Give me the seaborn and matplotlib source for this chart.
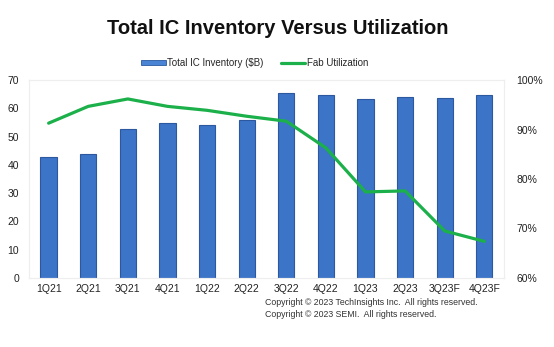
import matplotlib
matplotlib.use("Agg")
import matplotlib.pyplot as plt
import seaborn as sns
import pandas as pd
from matplotlib.patches import Patch
from matplotlib.lines import Line2D
from matplotlib.ticker import FuncFormatter

quarters = ["1Q21", "2Q21", "3Q21", "4Q21", "1Q22", "2Q22", "3Q22", "4Q22",
            "1Q23", "2Q23", "3Q23F", "4Q23F"]
inventory = [42.8, 44.0, 52.7, 55.0, 54.0, 56.0, 65.4, 64.7, 63.3, 64.0, 63.7, 64.6]
utilization = [91.3, 94.7, 96.2, 94.7, 93.9, 92.7, 91.7, 86.3, 77.4, 77.6, 69.5, 67.4]

df = pd.DataFrame({"quarter": quarters, "inventory": inventory, "util": utilization})
df["pos"] = range(len(df))

sns.set_style("white")
plt.rcParams["font.family"] = ["Liberation Sans", "DejaVu Sans"]

fig = plt.figure(figsize=(5.54, 3.47), dpi=100)
ax = fig.add_axes([0.052, 0.199, 0.858, 0.570])

sns.barplot(data=df, x="quarter", y="inventory", ax=ax, color="#3C74C8",
            width=0.41, edgecolor="#2B589E", linewidth=0.8, saturation=1)
ax.set_ylim(0, 70)
ax.set_yticks(range(0, 71, 10))
ax.set_xlim(-0.5, len(quarters) - 0.5)
ax.set_xlabel("")
ax.set_ylabel("")
ax.tick_params(axis="x", labelsize=7.5, length=0, pad=4, colors="#222222")
ax.tick_params(axis="y", labelsize=7.5, length=0, pad=7, colors="#222222")

ax2 = ax.twinx()
sns.lineplot(data=df, x="pos", y="util", ax=ax2, color="#1CB04A", linewidth=2.3,
             sort=False)
ax2.set_ylim(60, 100)
ax2.set_yticks(range(60, 101, 10))
ax2.yaxis.set_major_formatter(FuncFormatter(lambda v, p: f"{int(v)}%"))
ax2.set_xlim(-0.5, len(quarters) - 0.5)
ax2.set_xlabel("")
ax2.set_ylabel("")
ax2.tick_params(axis="y", labelsize=7.5, length=0, pad=9, colors="#222222")

for a in (ax, ax2):
    for s in a.spines.values():
        s.set_color("#EEEEEE")
        s.set_linewidth(0.8)

fig.text(0.502, 0.918, "Total IC Inventory Versus Utilization", ha="center", va="center",
         fontsize=14.5, fontweight="bold", color="#111111")

handles = [Patch(facecolor="#4A84D4", edgecolor="#2B589E", linewidth=0.6),
           Line2D([0], [0], color="#1CB04A", linewidth=2.3)]
fig.legend(handles, ["Total IC Inventory ($B)", "Fab Utilization"], loc="center",
           bbox_to_anchor=(0.46, 0.818), ncol=2, frameon=False, fontsize=7,
           handlelength=2.5, handleheight=0.35, columnspacing=1.75, handletextpad=0.2)

fig.text(0.479, 0.128, "Copyright © 2023 TechInsights Inc.  All rights reserved.",
         fontsize=6.3, color="#333333", va="center", ha="left")
fig.text(0.479, 0.093, "Copyright © 2023 SEMI.  All rights reserved.",
         fontsize=6.3, color="#333333", va="center", ha="left")

fig.savefig("out.png", dpi=100)
